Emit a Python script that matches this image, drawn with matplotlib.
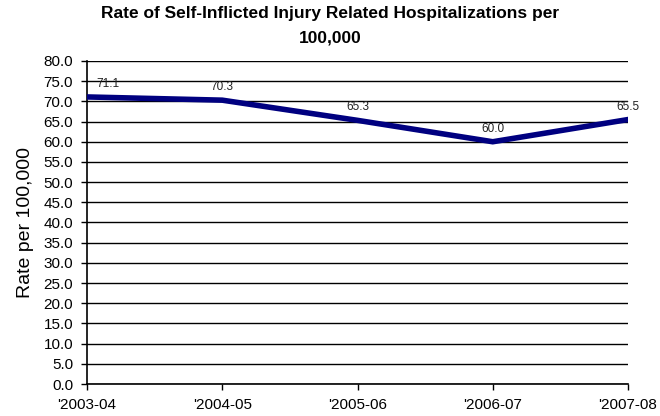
import matplotlib.pyplot as plt

plt.rcParams['font.family'] = ['Liberation Sans', 'DejaVu Sans']

# 数据
years = ["'2003-04", "'2004-05", "'2005-06", "'2006-07", "'2007-08"]
rates = [71.1, 70.3, 65.3, 60.0, 65.5]
y_ticks = [i * 5.0 for i in range(17)]

fig = plt.figure(figsize=(6.6, 4.16), dpi=100)
ax = fig.add_axes([87 / 660, 1 - 384 / 416, (628 - 87) / 660, (384 - 61) / 416])

x = list(range(len(years)))
ax.plot(x, rates, color='#000080', linewidth=4, solid_joinstyle='miter', zorder=3)

# 数据标签
for i, v in enumerate(rates):
    dx = 7 if i == 0 else 0
    ax.annotate('%.1f' % v, (i, v), xytext=(dx, 5), textcoords='offset points',
                ha='left' if i == 0 else 'center', va='bottom', fontsize=8.5, color='#222222')

ax.set_xlim(0, len(years) - 1)
ax.set_ylim(0, 80)
ax.set_xticks(x)
ax.set_xticklabels(years, fontsize=11)
ax.set_yticks(y_ticks)
ax.set_yticklabels(['%.1f' % t for t in y_ticks], fontsize=11)
ax.yaxis.grid(True, color='black', linewidth=1)
ax.set_axisbelow(True)
ax.tick_params(axis='both', direction='out', length=4, width=1, color='black')
ax.tick_params(axis='x', pad=6)
ax.tick_params(axis='y', pad=6)
for s in ['top', 'right']:
    ax.spines[s].set_visible(False)
for s in ['left', 'bottom']:
    ax.spines[s].set_linewidth(1.2)

ax.set_ylabel('Rate per 100,000', fontsize=14, labelpad=7)
fig.text(0.5, 0.985, 'Rate of Self-Inflicted Injury Related Hospitalizations per\n100,000',
         ha='center', va='top', fontsize=12.5, fontweight='bold', linespacing=1.75)

fig.savefig('out.png', dpi=100)
